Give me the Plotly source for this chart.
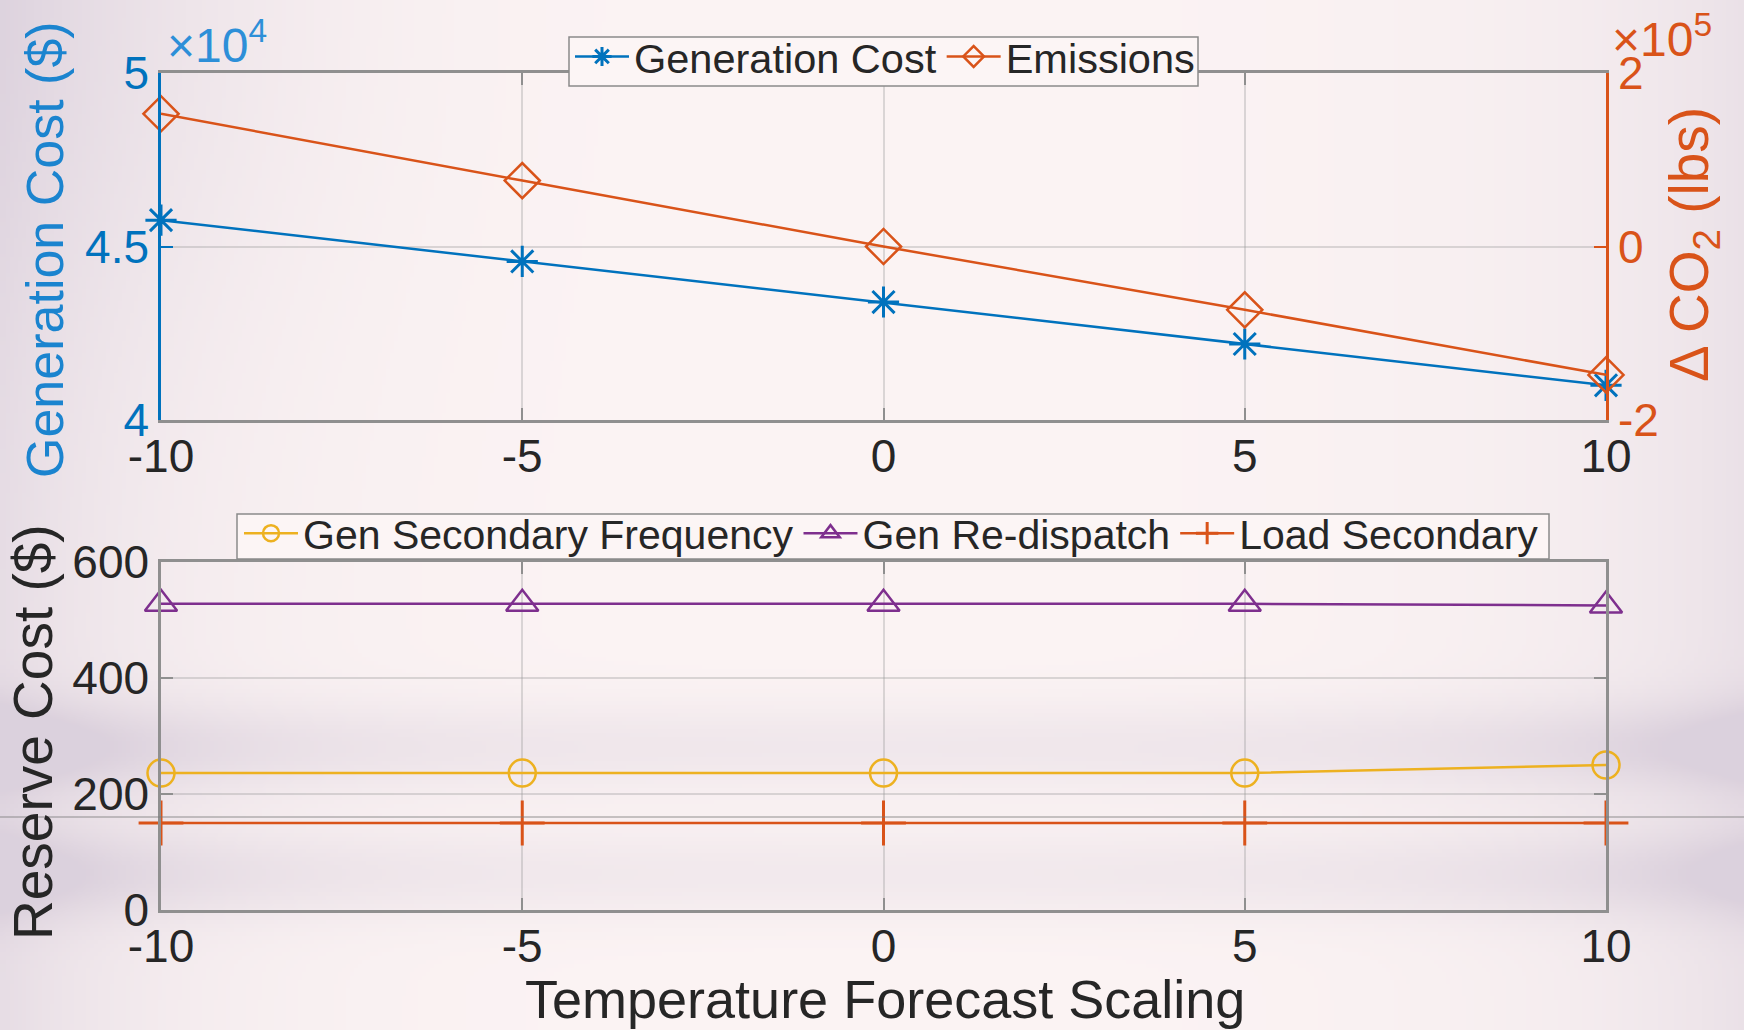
import base64
import struct
import zlib

import numpy as np
import plotly.graph_objects as go

# ---- data -------------------------------------------------------------
temp_scaling = [-10, -5, 0, 5, 10]
x_tick_vals = [-10, -5, 0, 5, 10]
x_tick_text = ["-10", "-5", "0", "5", "10"]

generation_cost = [45760, 44570, 43400, 42190, 41000]          # $
emissions_delta = [153000, 76000, 0, -73000, -148000]           # lbs CO2

gen_cost_ticks = [40000, 45000, 50000]
gen_cost_ticktext = ["4", "4.5", "5"]
co2_ticks = [-200000, 0, 200000]
co2_ticktext = ["-2", "0", "2"]

gen_secondary_freq = [236, 236, 236, 236, 250]
gen_redispatch = [528, 528, 528, 528, 525]
load_secondary = [150, 150, 150, 150, 150]
reserve_ticks = [0, 200, 400, 600]

# ---- styling ----------------------------------------------------------
W, H = 1744, 1030
FONT = "Liberation Sans, Arial, Helvetica, sans-serif"
BLUE = "#0072BD"
ORANGE = "#D95319"
YELLOW = "#EDB120"
PURPLE = "#7E2F8E"
TEXT = "#262626"
AXIS = "#8f8f8f"
GRID = "rgba(150,150,150,0.32)"
LEGEND_BG = "#fcf5f5"


def px_x(p):
    return p / W


def px_y(p):
    return 1 - p / H


# soft paper background (pale pink with lavender shading)
def background_png():
    h, w = 258, 436
    ys, xs = np.mgrid[0:h, 0:w].astype(float)
    X = xs * W / (w - 1)
    Y = ys * H / (h - 1)
    edge = np.exp(-X / 170.0) * 0.55 + np.exp(-(W - X) / 190.0) * 0.45
    band = np.exp(-((Y - 748) / 45.0) ** 2) + 0.85 * np.exp(-((Y - 875) / 45.0) ** 2)
    band *= 0.28 + 0.45 * np.clip(edge / 0.5, 0, 1)
    corner = 0.25 * np.exp(-((X) ** 2 + (Y) ** 2) / 320.0 ** 2)
    wgt = np.clip(edge + band + corner, 0, 0.85)[..., None]
    base = np.array([252, 244, 244], float)
    lav = np.array([214, 203, 217], float)
    img = base * (1 - wgt) + lav * wgt
    arr = np.clip(img, 0, 255).astype(np.uint8)
    raw = b"".join(b"\x00" + arr[i].tobytes() for i in range(h))

    def chunk(tag, data):
        return (struct.pack(">I", len(data)) + tag + data
                + struct.pack(">I", zlib.crc32(tag + data) & 0xFFFFFFFF))

    ihdr = struct.pack(">IIBBBBB", w, h, 8, 2, 0, 0, 0)
    png = (b"\x89PNG\r\n\x1a\n" + chunk(b"IHDR", ihdr)
           + chunk(b"IDAT", zlib.compress(raw, 9)) + chunk(b"IEND", b""))
    return "data:image/png;base64," + base64.b64encode(png).decode()


fig = go.Figure()

# ---- top panel: generation cost & emissions ----------------------------
fig.add_trace(go.Scatter(
    x=temp_scaling, y=generation_cost, name="Generation Cost",
    mode="lines+markers", xaxis="x", yaxis="y", legend="legend",
    line=dict(color=BLUE, width=2.5),
    marker=dict(symbol="asterisk-open", size=26, line=dict(color=BLUE, width=3)),
    cliponaxis=False,
))
fig.add_trace(go.Scatter(
    x=temp_scaling, y=emissions_delta, name="Emissions",
    mode="lines+markers", xaxis="x", yaxis="y2", legend="legend",
    line=dict(color=ORANGE, width=2.5),
    marker=dict(symbol="diamond-open", size=27, line=dict(color=ORANGE, width=2.5)),
    cliponaxis=False,
))

# ---- bottom panel: reserve costs ---------------------------------------
fig.add_trace(go.Scatter(
    x=temp_scaling, y=gen_secondary_freq, name="Gen Secondary Frequency",
    mode="lines+markers", xaxis="x2", yaxis="y3", legend="legend2",
    line=dict(color=YELLOW, width=2.5),
    marker=dict(symbol="circle-open", size=27, line=dict(color=YELLOW, width=2.5)),
    cliponaxis=False,
))
fig.add_trace(go.Scatter(
    x=temp_scaling, y=gen_redispatch, name="Gen Re-dispatch",
    mode="lines+markers", xaxis="x2", yaxis="y3", legend="legend2",
    line=dict(color=PURPLE, width=2.5),
    marker=dict(symbol="triangle-up-open", size=28, line=dict(color=PURPLE, width=2.5)),
    cliponaxis=False,
))
fig.add_trace(go.Scatter(
    x=temp_scaling, y=load_secondary, name="Load Secondary",
    mode="lines+markers", xaxis="x2", yaxis="y3", legend="legend2",
    line=dict(color=ORANGE, width=2.5),
    marker=dict(symbol="cross-thin-open", size=32, line=dict(color=ORANGE, width=3)),
    cliponaxis=False,
))

xdom = [px_x(161), px_x(1606)]
top_dom = [px_y(420), px_y(73)]
bot_dom = [px_y(910), px_y(562)]

tick_font = dict(family=FONT, size=46, color=TEXT)

xaxis_common = dict(
    range=[-10, 10], tickvals=x_tick_vals, ticktext=x_tick_text,
    showgrid=True, gridcolor=GRID, gridwidth=2, zeroline=False,
    showline=True, linecolor=AXIS, linewidth=2.5, mirror="ticks",
    ticks="inside", ticklen=12, tickwidth=2, tickcolor=AXIS,
    tickfont=tick_font, domain=xdom, ticklabelstandoff=-6,
)

legend_common = dict(
    orientation="h", xanchor="left", yanchor="top",
    bgcolor="rgba(0,0,0,0)", borderwidth=0,
    itemwidth=54, tracegroupgap=0,
)

fig.update_layout(
    width=W, height=H,
    margin=dict(l=0, r=0, t=0, b=0, autoexpand=False),
    paper_bgcolor="#fbf3f3",
    plot_bgcolor="rgba(0,0,0,0)",
    font=dict(family=FONT, color=TEXT),
    xaxis=dict(anchor="y", **xaxis_common),
    yaxis=dict(
        domain=top_dom, range=[40000, 50000],
        tickvals=gen_cost_ticks, ticktext=gen_cost_ticktext,
        showgrid=True, gridcolor=GRID, gridwidth=2, zeroline=False,
        showline=True, linecolor=BLUE, linewidth=2.5,
        ticks="inside", ticklen=12, tickwidth=2, tickcolor=BLUE,
        tickfont=dict(family=FONT, size=46, color=BLUE),
        anchor="x",
    ),
    yaxis2=dict(
        overlaying="y", side="right", range=[-200000, 200000],
        tickvals=co2_ticks, ticktext=co2_ticktext,
        showgrid=False, zeroline=False,
        showline=True, linecolor=ORANGE, linewidth=2.5,
        ticks="inside", ticklen=12, tickwidth=2, tickcolor=ORANGE,
        tickfont=dict(family=FONT, size=46, color=ORANGE),
        anchor="x",
    ),
    xaxis2=dict(anchor="y3", **xaxis_common),
    yaxis3=dict(
        domain=bot_dom, range=[0, 600], tickvals=reserve_ticks,
        showgrid=True, gridcolor=GRID, gridwidth=2, zeroline=False,
        showline=True, linecolor=AXIS, linewidth=2.5, mirror="ticks",
        ticks="inside", ticklen=12, tickwidth=2, tickcolor=AXIS,
        tickfont=tick_font, anchor="x2",
    ),
    legend=dict(x=px_x(570), y=px_y(23),
                font=dict(family=FONT, size=41.5, color=TEXT), **legend_common),
    legend2=dict(x=px_x(239), y=px_y(500),
                 font=dict(family=FONT, size=41, color=TEXT), **legend_common),
    showlegend=True,
    images=[dict(
        source=background_png(), xref="paper", yref="paper",
        x=0, y=1, sizex=1, sizey=1, sizing="stretch", layer="below",
    )],
    shapes=[
        # legend frames
        dict(type="rect", xref="paper", yref="paper",
             x0=px_x(569), x1=px_x(1198), y0=px_y(86), y1=px_y(37),
             fillcolor=LEGEND_BG, line=dict(color="#8a8a8a", width=1.5), layer="above"),
        dict(type="rect", xref="paper", yref="paper",
             x0=px_x(237), x1=px_x(1549), y0=px_y(559), y1=px_y(514),
             fillcolor=LEGEND_BG, line=dict(color="#8a8a8a", width=1.5), layer="above"),
        # faint horizontal rule across the page
        dict(type="line", xref="paper", yref="paper",
             x0=0, x1=1, y0=px_y(817), y1=px_y(817),
             line=dict(color="rgba(120,120,120,0.8)", width=1), layer="above"),
    ],
)

annotations = [
    # axis titles
    dict(text="Generation Cost ($)", x=px_x(45), y=px_y(250), textangle=-90,
         font=dict(size=52, color="#1b84cf")),
    dict(text="Reserve Cost ($)", x=px_x(33), y=px_y(732), textangle=-90,
         font=dict(size=55, color=TEXT)),
    dict(text="\u0394 CO<sub>2</sub> (lbs)", x=px_x(1693), y=px_y(245), textangle=-90,
         font=dict(size=55, color=ORANGE)),
    dict(text="Temperature Forecast Scaling", x=px_x(885), y=px_y(999),
         font=dict(size=54, color=TEXT)),
    # exponent labels
    dict(text="\u00d710<sup>4</sup>", x=px_x(165), y=px_y(42), xanchor="left",
         font=dict(size=48, color="#2d8fd8")),
    dict(text="\u00d710<sup>5</sup>", x=px_x(1610), y=px_y(36), xanchor="left",
         font=dict(size=48, color=ORANGE)),
]
for a in annotations:
    a.setdefault("xanchor", "center")
    a.setdefault("yanchor", "middle")
    a.update(xref="paper", yref="paper", showarrow=False)
    a["font"]["family"] = FONT
fig.update_layout(annotations=annotations)

fig.write_html("out.html")
